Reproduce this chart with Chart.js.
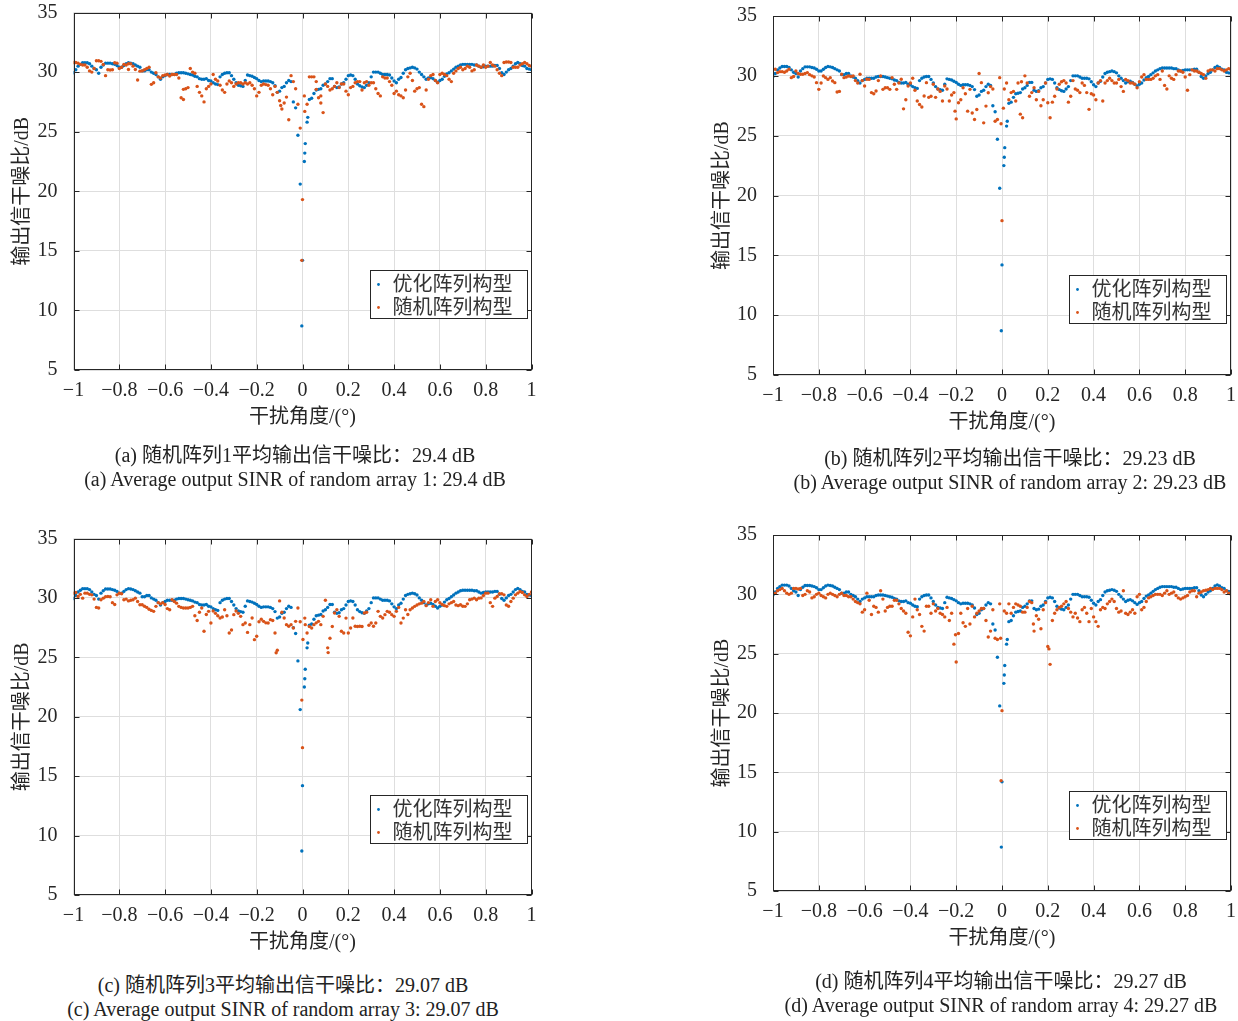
<!DOCTYPE html>
<html><head><meta charset="utf-8">
<script src="https://cdn.jsdelivr.net/npm/chart.js@4.4.0/dist/chart.umd.min.js"></script>
<style>
html,body{margin:0;padding:0;background:#fff;}
body{width:1238px;height:1021px;position:relative;overflow:hidden;font-family:"Liberation Serif","Noto Sans CJK SC",serif;}
canvas{position:absolute;}
.cap{position:absolute;font-size:20px;line-height:24px;white-space:nowrap;color:#222;transform:translateX(-50%);}
</style></head>
<body>
<script>
// ---------- data ----------
const SERIES_NAMES = ['优化阵列构型', '随机阵列构型'];
const X_TICKS = [-1, -0.8, -0.6, -0.4, -0.2, 0, 0.2, 0.4, 0.6, 0.8, 1];
const X_TICK_LABELS = ['−1', '−0.8', '−0.6', '−0.4', '−0.2', '0', '0.2', '0.4', '0.6', '0.8', '1'];
const Y_TICKS = [5, 10, 15, 20, 25, 30, 35];
const Y_TICK_LABELS = ['5', '10', '15', '20', '25', '30', '35'];
const X_TITLE = '干扰角度/(°)';
const Y_TITLE = '输出信干噪比/dB';
const CAPTIONS_ZH = ['(a) 随机阵列1平均输出信干噪比：29.4 dB', '(b) 随机阵列2平均输出信干噪比：29.23 dB', '(c) 随机阵列3平均输出信干噪比：29.07 dB', '(d) 随机阵列4平均输出信干噪比：29.27 dB'];
const CAPTIONS_EN = ['(a) Average output SINR of random array 1: 29.4 dB', '(b) Average output SINR of random array 2: 29.23 dB', '(c) Average output SINR of random array 3: 29.07 dB', '(d) Average output SINR of random array 4: 29.27 dB'];

// sample grid of interference angles (-1 ... 1, step 0.01)
const ANGLES = Array.from({length: 201}, (_, i) => (i - 100) / 100);

// optimized array (same in all four panels)
const BLUE = [
29.95,30.2,30.5,30.65,30.78,30.78,30.78,30.7,30.5,30.3,
30.2,29.9,30.4,30.6,30.75,30.75,30.75,30.7,30.65,30.55,
30.4,30.4,30.55,30.7,30.78,30.75,30.7,30.6,30.5,30.4,
30.1,30.1,30.2,30.2,30.0,29.9,29.8,29.6,29.4,29.6,
29.7,29.8,29.8,29.8,29.8,29.9,29.95,29.95,29.95,29.9,
29.85,29.8,29.75,29.65,29.6,29.45,29.4,29.4,29.45,29.3,
29.25,29.1,29.0,28.95,29.6,29.8,29.9,29.95,29.95,29.7,
29.4,29.1,28.9,28.85,28.8,29.3,29.75,29.7,29.65,29.55,
29.45,29.3,29.2,29.25,29.25,29.25,29.2,29.1,28.85,28.3,
28.4,28.7,28.8,29.1,29.3,29.2,27.5,27.0,24.7,20.6,
14.2,
23.2,25.8,27.7,27.8,28.2,28.5,28.55,28.6,28.9,29.0,
29.2,29.45,29.45,28.8,28.7,28.75,29.0,29.1,29.4,29.7,
29.75,29.7,29.4,29.0,28.85,28.75,28.7,28.9,29.1,29.6,
30.0,30.0,30.0,29.9,29.8,29.8,29.8,29.75,29.5,29.25,
29.1,29.4,29.55,29.9,30.2,30.3,30.35,30.4,30.35,30.25,
30.0,29.8,29.6,29.4,29.5,29.55,29.45,29.3,29.15,29.3,
29.4,29.65,29.85,29.95,30.1,30.25,30.4,30.5,30.6,30.65,
30.65,30.65,30.65,30.65,30.6,30.6,30.5,30.4,30.45,30.5,
30.5,30.5,30.5,30.55,30.55,30.3,29.95,29.8,30.0,30.2,
30.3,30.5,30.7,30.8,30.7,30.55,30.5,30.3,30.25,30.2];
const BLUE_EXTRA_X = [-0.003, 0.008, 0.012, 0.023];
const BLUE_EXTRA_Y = [8.7, 22.5, 24.0, 26.2];

// random arrays 1..4
const RED_A = [
30.8,30.8,30.75,30.65,30.6,30.6,30.4,30.1,30.0,30.3,
30.95,30.95,30.9,30.64,29.7,30.2,30.17,30.2,30.78,30.75,
30.3,30.4,30.64,30.6,30.22,30.7,30.5,30.22,29.33,30.08,
30.1,30.2,30.3,30.4,28.97,29.1,29.94,29.6,29.5,29.7,
29.75,29.8,29.67,29.8,29.8,29.8,29.5,27.85,27.7,28.6,
28.7,30.3,30.0,29.9,28.8,28.3,28.0,27.5,28.6,28.8,
29.0,29.8,29.4,29.25,28.9,28.5,28.3,29.0,29.25,29.1,
28.8,29.0,29.1,29.1,29.0,29.1,29.0,29.1,28.9,28.6,
28.0,28.3,28.9,29.0,28.95,28.9,28.6,28.1,28.8,28.3,
27.6,26.9,27.4,27.9,26.0,29.7,29.2,28.6,27.3,25.3,
19.3,
26.7,27.3,29.6,29.6,29.6,29.2,27.85,27.4,26.6,29.0,
28.8,28.5,28.6,28.8,29.1,28.7,29.0,29.0,28.4,28.1,
28.7,28.8,29.1,29.2,29.2,28.5,29.1,29.2,28.9,29.1,
29.1,28.6,28.2,28.0,29.6,29.5,29.5,29.2,28.9,28.2,
28.4,28.1,28.0,27.85,28.5,29.6,29.9,29.3,28.4,28.6,
28.7,27.3,27.1,28.5,29.4,29.7,29.8,29.3,29.1,29.8,
29.9,29.8,29.7,29.4,29.2,29.9,30.1,30.3,30.4,30.2,
30.3,30.5,30.4,30.1,30.2,30.6,30.5,30.4,30.6,30.4,
30.5,30.8,30.6,30.5,30.2,29.9,29.7,30.8,30.85,30.85,
30.8,30.4,30.4,30.4,30.6,30.7,30.8,30.7,30.55,30.5];
const RED_A_EXTRA_X = [-0.76, -0.52, -0.095, -0.003, 0.008, 0.06, 0.08];
const RED_A_EXTRA_Y = [30.7, 28.55, 27.2, 14.2, 28.0, 28.55, 28.0];

const RED_B = [
30.55,30.55,30.27,30.35,30.35,30.3,30.4,30.55,29.85,29.95,
30.4,30.2,30.13,30.13,30.2,30.27,30.1,30.0,29.9,29.43,
28.87,29.4,29.99,29.85,29.7,29.85,29.57,29.43,28.65,28.7,
30.13,29.85,29.9,29.99,29.95,29.99,29.6,29.4,30.13,29.6,
29.15,29.71,29.7,28.6,28.5,28.73,29.6,29.99,28.87,29.0,
29.01,28.87,29.85,29.3,28.87,29.4,29.71,27.24,28.0,29.15,
29.4,29.8,28.8,27.9,27.6,27.4,28.31,29.43,28.2,28.3,
29.3,28.2,28.9,28.7,27.9,29.15,28.9,27.9,28.4,28.6,
26.4,27.75,28.0,29.0,28.5,27.05,28.87,26.9,26.35,27.19,
30.2,29.43,26.07,27.47,28.59,29.1,28.9,26.2,26.35,29.85,
17.9,
28.9,29.4,28.0,28.6,28.7,27.9,29.4,26.8,26.5,30.0,
29.4,28.3,28.6,29.0,28.0,28.7,27.5,28.0,29.4,27.75,
26.5,27.8,28.3,28.9,29.3,29.5,29.6,29.4,27.8,28.3,
29.6,28.9,28.8,28.6,29.4,29.2,28.6,27.2,28.5,28.4,
28.0,29.4,29.6,27.9,29.4,29.6,29.8,29.6,29.4,29.4,
29.7,29.1,28.7,29.7,29.6,29.4,29.4,29.3,29.0,29.5,
29.9,30.1,29.7,29.7,29.7,29.8,30.0,30.1,29.7,30.4,
29.2,28.9,30.0,29.8,29.7,30.1,30.4,30.4,30.3,29.9,
28.8,30.1,30.5,30.4,30.4,30.3,30.2,30.1,29.8,30.4,
30.5,30.5,30.4,30.6,30.6,30.5,30.4,30.5,30.6,30.5];
const RED_B_EXTRA_X = [-0.205, -0.004, 0.006, 0.085];
const RED_B_EXTRA_Y = [27.05, 26.0, 27.3, 29.5];

const RED_C = [
30.4,30.45,30.12,30.3,29.98,30.4,30.4,30.3,30.26,29.9,
29.2,29.15,29.84,29.98,30.1,30.12,30.1,29.6,29.45,30.26,
30.4,30.35,29.84,29.9,29.75,29.8,29.84,29.98,29.7,29.43,
29.43,29.3,29.2,29.05,28.95,28.87,29.29,29.6,29.5,29.6,
29.45,29.1,29.01,29.84,29.7,29.56,29.29,29.2,29.15,29.15,
29.15,29.2,29.29,28.5,28.1,28.8,29.15,27.2,28.6,28.87,
27.89,28.9,28.7,28.5,28.31,28.4,29.01,28.5,27.05,27.3,
28.59,28.9,28.7,28.45,27.75,27.89,27.1,27.75,28.31,26.49,
26.77,28.0,28.2,28.03,27.9,27.89,28.17,28.1,27.05,25.6,
29.75,28.8,28.31,27.75,27.61,27.75,27.47,28.03,29.15,28.0,
17.4,
28.3,27.05,27.6,27.47,27.75,27.9,28.03,27.75,28.45,29.8,
25.8,26.6,27.6,28.73,29.01,28.45,27.19,27.05,28.3,27.05,
27.47,28.31,27.61,27.6,27.61,27.6,28.73,28.8,27.7,27.89,
27.61,27.89,28.87,28.45,28.31,28.59,28.87,28.8,28.59,28.45,
28.87,29.2,27.89,28.3,29.01,28.6,29.0,29.15,29.29,29.4,
29.5,29.56,29.7,29.35,29.6,29.84,29.29,29.7,29.84,29.6,
29.45,29.35,29.29,29.5,29.6,29.7,29.4,29.35,29.43,29.3,
29.29,29.5,29.84,29.9,29.98,29.84,29.98,30.0,30.2,30.4,
30.4,29.6,29.29,29.98,30.12,30.35,30.35,30.26,29.4,29.3,
29.7,29.98,30.26,30.4,30.54,30.45,30.26,30.12,30.3,30.5];
const RED_C_EXTRA_X = [-0.115, -0.003, 0.002, 0.012, 0.112];
const RED_C_EXTRA_Y = [25.38, 21.4, 26.5, 27.75, 25.4];

const RED_D = [
30.1,30.1,30.3,30.4,30.5,30.3,30.1,30.0,30.1,30.5,
30.5,30.45,30.5,29.9,30.0,30.3,30.2,29.7,29.8,30.0,
30.1,29.9,29.8,29.7,30.0,30.1,30.0,29.9,29.8,30.0,
30.1,29.9,29.9,29.8,29.8,29.6,29.4,29.3,29.2,28.5,
28.7,30.1,29.5,28.3,29.0,28.9,28.5,30.3,29.6,28.6,
28.9,29.0,29.0,29.5,29.5,29.2,28.8,28.6,28.4,26.8,
26.5,28.1,29.6,28.7,28.3,27.3,26.9,29.0,29.0,28.4,
29.2,28.6,28.8,28.4,28.3,28.1,28.9,27.8,28.4,25.8,
24.3,26.7,28.4,27.6,27.3,28.8,27.5,29.0,28.1,28.4,
28.6,28.8,28.8,27.8,26.4,26.9,28.7,26.3,26.2,29.2,
20.2,
28.6,28.4,29.2,28.4,28.9,29.2,29.1,29.0,28.5,28.5,
28.9,29.4,29.3,26.9,28.2,27.9,27.1,28.7,29.3,25.6,
24.1,27.8,28.4,28.7,28.9,29.0,29.2,29.4,28.8,28.5,
28.1,28.4,28.0,27.7,28.7,28.9,28.4,27.7,28.8,28.1,
27.7,27.3,28.7,28.9,28.8,29.2,29.4,29.6,29.4,28.8,
28.5,28.6,30.3,28.4,28.3,28.5,28.7,28.4,29.8,30.0,
28.7,28.9,29.4,29.7,29.8,29.9,30.0,30.0,30.0,29.9,
30.1,30.3,30.0,30.1,30.2,29.9,29.7,29.6,29.7,29.8,
29.9,30.2,30.3,30.3,29.8,30.1,30.2,30.3,30.35,30.4,
30.5,30.4,30.5,30.5,30.5,30.4,30.2,30.3,30.1,30.0];
const RED_D_EXTRA_X = [-0.203, -0.006, -0.004, 0.137, 0.205];
const RED_D_EXTRA_Y = [26.6, 26.3, 14.3, 27.5, 25.4];

// ---------- styling / layout ----------
const BLUE_COLOR = '#0072BD';
const RED_COLOR = '#D95319';
const AXIS_COLOR = '#262626';
const GRID_COLOR = '#dedede';
const FONT = '"Liberation Serif", "Noto Sans CJK SC", serif';
const CH = 450;
const DOT_R = 1.7;

const PANELS = [
  {cl: 0,   ct: 0,   cw: 600, L: 73.5, T: 12.5, R: 531.5, B: 370, red: RED_A, rx: RED_A_EXTRA_X, ry: RED_A_EXTRA_Y, cx: 295,  cy: [455, 479]},
  {cl: 700, ct: 0,   cw: 538, L: 773,  T: 16,   R: 1231,  B: 375, red: RED_B, rx: RED_B_EXTRA_X, ry: RED_B_EXTRA_Y, cx: 1010, cy: [458, 482]},
  {cl: 0,   ct: 520, cw: 600, L: 73.5, T: 538.5,R: 531.5, B: 895, red: RED_C, rx: RED_C_EXTRA_X, ry: RED_C_EXTRA_Y, cx: 283,  cy: [985, 1009]},
  {cl: 700, ct: 520, cw: 538, L: 773,  T: 535,  R: 1231,  B: 891, red: RED_D, rx: RED_D_EXTRA_X, ry: RED_D_EXTRA_Y, cx: 1001, cy: [981, 1005]}
];

function toPoints(ys, exX, exY) {
  const pts = ANGLES.map((a, i) => ({x: a, y: ys[i]}));
  exX.forEach((x, i) => pts.push({x: x, y: exY[i]}));
  return pts;
}

const framePlugin = {
  id: 'frame',
  afterDatasetsDraw(chart) {
    const {ctx, chartArea: a, scales} = chart;
    const xs = scales.x, ys = scales.y;
    const l = Math.round(a.left) + 0.5, r = Math.round(a.right) - 0.5;
    const t = Math.round(a.top) + 0.5, b = Math.round(a.bottom) - 0.5;
    ctx.save();
    ctx.strokeStyle = AXIS_COLOR;
    ctx.lineWidth = 1;
    ctx.strokeRect(l, t, r - l, b - t);
    ctx.beginPath();
    const tl = 5;
    X_TICKS.forEach(v => {
      const px = Math.round(xs.getPixelForValue(v)) + 0.5;
      ctx.moveTo(px, b); ctx.lineTo(px, b - tl);
      ctx.moveTo(px, t); ctx.lineTo(px, t + tl);
    });
    Y_TICKS.forEach(v => {
      const py = Math.round(ys.getPixelForValue(v)) + 0.5;
      ctx.moveTo(l, py); ctx.lineTo(l + tl, py);
      ctx.moveTo(r, py); ctx.lineTo(r - tl, py);
    });
    ctx.stroke();
    // legend
    const bw = 157, bh = 48;
    const bx = Math.round(a.right - 5 - bw) + 0.5;
    const by = Math.round(a.bottom - 52 - bh) + 0.5;
    ctx.fillStyle = '#fff';
    ctx.fillRect(bx, by, bw, bh);
    ctx.strokeRect(bx, by, bw, bh);
    [0, 1].forEach((di, row) => {
      const ds = chart.data.datasets[di];
      const cy = by + 14 + row * 23;
      ctx.fillStyle = ds.backgroundColor;
      ctx.beginPath();
      ctx.arc(bx + 8, cy, 1.4, 0, Math.PI * 2);
      ctx.fill();
      ctx.fillStyle = '#333';
      ctx.font = '20px ' + FONT;
      ctx.textBaseline = 'middle';
      ctx.textAlign = 'left';
      ctx.fillText(ds.label, bx + 22, cy + 1);
    });
    ctx.restore();
  }
};

PANELS.forEach((p, idx) => {
  const cv = document.createElement('canvas');
  cv.width = p.cw; cv.height = CH;
  cv.style.left = p.cl + 'px'; cv.style.top = p.ct + 'px';
  cv.style.width = p.cw + 'px'; cv.style.height = CH + 'px';
  document.body.appendChild(cv);
  const Lloc = p.L - p.cl, Tloc = p.T - p.ct, Rloc = p.R - p.cl, Bloc = p.B - p.ct;
  const xAxisH = CH - Bloc;
  new Chart(cv, {
    type: 'scatter',
    data: {
      datasets: [
        {label: SERIES_NAMES[0], data: toPoints(BLUE, BLUE_EXTRA_X, BLUE_EXTRA_Y), backgroundColor: BLUE_COLOR, borderWidth: 0, pointRadius: DOT_R, pointHoverRadius: DOT_R, order: 1},
        {label: SERIES_NAMES[1], data: toPoints(p.red, p.rx, p.ry), backgroundColor: RED_COLOR, borderWidth: 0, pointRadius: DOT_R, pointHoverRadius: DOT_R, order: 0}
      ]
    },
    options: {
      responsive: false, animation: false, events: [],
      layout: {padding: {left: 0, top: Tloc, right: p.cw - Rloc, bottom: 0}},
      plugins: {legend: {display: false}, tooltip: {enabled: false}},
      scales: {
        x: {
          type: 'linear', position: 'bottom', min: -1, max: 1,
          afterBuildTicks: s => { s.ticks = X_TICKS.map(v => ({value: v})); },
          afterFit: s => { s.height = xAxisH; s.paddingLeft = 0; s.paddingRight = 0; s.paddingTop = 0; s.paddingBottom = 0; },
          ticks: {autoSkip: false, maxRotation: 0, padding: 9, color: AXIS_COLOR, font: {family: FONT, size: 20}, callback: (v, i) => X_TICK_LABELS[i]},
          grid: {color: GRID_COLOR, lineWidth: 1, drawTicks: false},
          border: {display: false},
          title: {display: true, text: X_TITLE, color: AXIS_COLOR, font: {family: FONT, size: 20}, padding: {top: 0, bottom: xAxisH - 60}}
        },
        y: {
          type: 'linear', position: 'left', min: 5, max: 35,
          afterBuildTicks: s => { s.ticks = Y_TICKS.map(v => ({value: v})); },
          afterFit: s => { s.width = Lloc; s.paddingLeft = 0; s.paddingRight = 0; s.paddingTop = 0; s.paddingBottom = 0; },
          ticks: {autoSkip: false, padding: 16, color: AXIS_COLOR, font: {family: FONT, size: 20}, callback: (v, i) => Y_TICK_LABELS[i]},
          grid: {color: GRID_COLOR, lineWidth: 1, drawTicks: false},
          border: {display: false},
          title: {display: true, text: Y_TITLE, color: AXIS_COLOR, font: {family: FONT, size: 20}, padding: {top: 11, bottom: 0}}
        }
      }
    },
    plugins: [framePlugin]
  });
  [CAPTIONS_ZH[idx], CAPTIONS_EN[idx]].forEach((txt, k) => {
    const d = document.createElement('div');
    d.className = 'cap';
    d.textContent = txt;
    d.style.left = p.cx + 'px';
    d.style.top = (p.cy[k] - 12) + 'px';
    document.body.appendChild(d);
  });
});
</script>
</body></html>
